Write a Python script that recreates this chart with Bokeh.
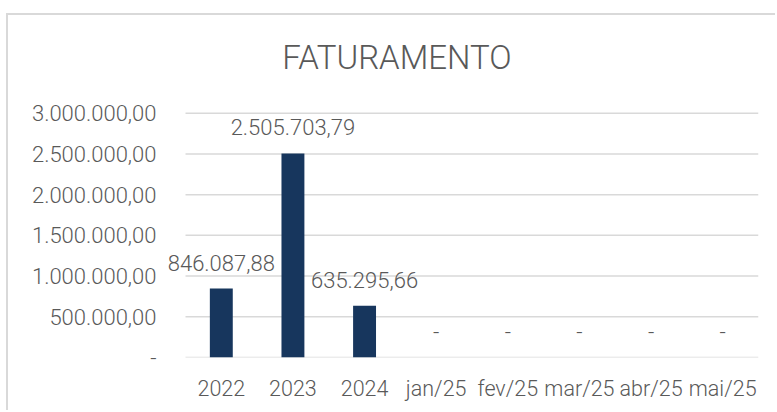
from bokeh.plotting import figure
from bokeh.models import Range1d, FixedTicker, Label, ColumnDataSource
from bokeh.core.properties import value
from bokeh.embed import file_html
from bokeh.resources import INLINE

# ---- data ----
categories = ["2022", "2023", "2024", "jan/25", "fev/25", "mar/25", "abr/25", "mai/25"]
values = [846087.88, 2505703.79, 635295.66, 0, 0, 0, 0, 0]
value_labels = ["846.087,88", "2.505.703,79", "635.295,66", "-", "-", "-", "-", "-"]
y_ticks = [0, 500000, 1000000, 1500000, 2000000, 2500000, 3000000]
y_tick_labels = ["-", "500.000,00", "1.000.000,00", "1.500.000,00",
                 "2.000.000,00", "2.500.000,00", "3.000.000,00"]
title_text = "FATURAMENTO"

FONT = "Roboto Light"
TXT = "#595959"
BAR = "#17365D"
GRID = "#D9D9D9"

n = len(categories)
xpos = [i + 0.5 for i in range(n)]
src = ColumnDataSource(data=dict(x=xpos, val=values, lab=value_labels))
grid_src = ColumnDataSource(data=dict(x0=[0] * len(y_ticks), x1=[n] * len(y_ticks), y=y_ticks))

p = figure(
    width=769, height=397,
    x_range=Range1d(-0.349, n),
    y_range=Range1d(0, 4200000),
    output_backend="svg", toolbar_location=None,
    min_border_left=152, min_border_right=19, min_border_top=0, min_border_bottom=55,
    margin=(13, 0, 0, 6),
    styles={"border-left": "2px solid #D9D9D9", "border-top": "2px solid #D9D9D9"},
)
p.outline_line_color = None
p.background_fill_color = "white"
p.border_fill_color = "white"
p.xgrid.grid_line_color = None
p.ygrid.grid_line_color = None

# horizontal gridlines across the category span
p.segment(x0="x0", x1="x1", y0="y", y1="y", source=grid_src, line_color=GRID, line_width=1.5)

p.vbar(x="x", top="val", width=0.32, fill_color=BAR, line_color=None, source=src)

p.text(x="x", y="val", text="lab", source=src, text_align="center",
       text_baseline="alphabetic", y_offset=-26, text_font=value(FONT),
       text_font_size="22px", text_color=TXT)

# y axis
p.yaxis.ticker = FixedTicker(ticks=y_ticks)
p.yaxis.major_label_overrides = {t: l for t, l in zip(y_ticks, y_tick_labels)}
p.yaxis.axis_line_color = None
p.yaxis.major_tick_line_color = None
p.yaxis.minor_tick_line_color = None
p.yaxis.major_tick_out = 0
p.yaxis.major_label_standoff = 4
p.yaxis.major_label_text_font = FONT
p.yaxis.major_label_text_font_size = "22px"
p.yaxis.major_label_text_color = TXT

# x axis
p.xaxis.ticker = FixedTicker(ticks=xpos)
p.xaxis.major_label_overrides = {x: c for x, c in zip(xpos, categories)}
p.xaxis.axis_line_color = None
p.xaxis.major_tick_line_color = None
p.xaxis.minor_tick_line_color = None
p.xaxis.major_tick_out = 0
p.xaxis.major_label_standoff = 18
p.xaxis.major_label_text_font = FONT
p.xaxis.major_label_text_font_size = "21.5px"
p.xaxis.major_label_text_color = TXT

title = Label(x=236.5, y=300, x_units="screen", y_units="screen", text=title_text,
              text_align="center", text_baseline="middle", text_font=FONT,
              text_font_size="33px", text_color=TXT)
p.add_layout(title)

open("out.html", "w").write(file_html(p, INLINE))
